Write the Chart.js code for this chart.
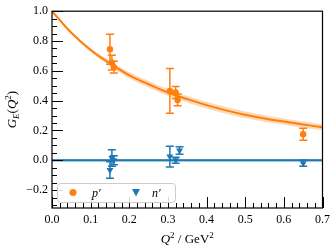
<!DOCTYPE html>
<html>
<head>
<meta charset="utf-8">
<script src="https://cdn.jsdelivr.net/npm/chart.js@4.4.0/dist/chart.umd.min.js"></script>
<style>
  html, body { margin: 0; padding: 0; background: #fff; }
  canvas { display: block; }
</style>
</head>
<body>
<canvas id="chart" width="335" height="251"></canvas>
<script>
// Fit curves
const qGrid = [0, 0.05, 0.1, 0.15, 0.2, 0.25, 0.3, 0.35, 0.4, 0.45, 0.5, 0.55, 0.6, 0.65, 0.7];
const pFit   = [1.0, 0.855, 0.74, 0.65, 0.57, 0.51, 0.455, 0.41, 0.37, 0.335, 0.305, 0.28, 0.26, 0.24, 0.222];
const pFitHi = [1.0, 0.863, 0.753, 0.667, 0.59, 0.531, 0.477, 0.432, 0.392, 0.357, 0.327, 0.302, 0.281, 0.261, 0.242];
const pFitLo = [1.0, 0.847, 0.727, 0.633, 0.55, 0.489, 0.433, 0.388, 0.348, 0.313, 0.283, 0.258, 0.239, 0.219, 0.202];
const nFit   = [0, 0, 0, 0, 0, 0, 0, 0, 0, 0, 0, 0, 0, 0, 0];
const nFitHi = [0.009, 0.009, 0.009, 0.009, 0.009, 0.009, 0.009, 0.009, 0.009, 0.009, 0.009, 0.009, 0.009, 0.009, 0.009];
const nFitLo = [-0.009, -0.009, -0.009, -0.009, -0.009, -0.009, -0.009, -0.009, -0.009, -0.009, -0.009, -0.009, -0.009, -0.009, -0.009];

// Lattice points p' and n'
const pX   = [0.15, 0.155, 0.16, 0.305, 0.32, 0.325, 0.65];
const pY   = [0.745, 0.655, 0.625, 0.465, 0.455, 0.405, 0.175];
const pErr = [0.10, 0.05, 0.04, 0.15, 0.04, 0.04, 0.04];
const nX   = [0.15, 0.155, 0.16, 0.305, 0.32, 0.33, 0.65];
const nY   = [-0.065, 0.015, 0.0, 0.025, 0.0, 0.065, -0.02];
const nErr = [0.055, 0.055, 0.03, 0.07, 0.02, 0.025, 0.02];

const xTicks = [0, 0.1, 0.2, 0.3, 0.4, 0.5, 0.6, 0.7];
const yTicks = [-0.2, 0, 0.2, 0.4, 0.6, 0.8, 1.0];

const ORANGE = '#ff7f0e';
const BLUE = '#1f77b4';
const SERIF = '"Liberation Serif", "DejaVu Serif", serif';

const toXY = (xs, ys) => xs.map((x, i) => ({ x: x, y: ys[i] }));

// error bars, drawn just before the points of their dataset
const errorBars = {
    id: 'errorBars',
    beforeDatasetDraw(chart, args) {
        const ds = chart.data.datasets[args.index];
        if (!ds.errors) return;
        const ctx = chart.ctx;
        const xs = chart.scales.x, ys = chart.scales.y;
        ctx.save();
        ctx.strokeStyle = ds.borderColor;
        ctx.lineWidth = 1.5;
        ds.data.forEach((p, i) => {
            const px = xs.getPixelForValue(p.x);
            const top = ys.getPixelForValue(p.y + ds.errors[i]);
            const bot = ys.getPixelForValue(p.y - ds.errors[i]);
            ctx.beginPath();
            ctx.moveTo(px, top); ctx.lineTo(px, bot);
            ctx.moveTo(px - 4, top); ctx.lineTo(px + 4, top);
            ctx.moveTo(px - 4, bot); ctx.lineTo(px + 4, bot);
            ctx.stroke();
        });
        ctx.restore();
    }
};

// frame, inward ticks, axis titles and legend
const decorations = {
    id: 'decorations',
    afterDraw(chart) {
        const ctx = chart.ctx;
        const a = chart.chartArea;
        const xs = chart.scales.x, ys = chart.scales.y;
        ctx.save();
        ctx.strokeStyle = '#000';
        ctx.lineWidth = 1.2;
        ctx.strokeRect(a.left, a.top, a.right - a.left, a.bottom - a.top);

        ctx.beginPath();
        for (let v = 0; v <= 0.7001; v += 0.02) {
            const px = Math.round(xs.getPixelForValue(v)) + 0.5;
            const major = Math.abs(v * 10 - Math.round(v * 10)) < 1e-6;
            ctx.moveTo(px, a.bottom);
            ctx.lineTo(px, a.bottom - (major ? 11 : 5));
        }
        for (let v = -0.3; v <= 1.0001; v += 0.05) {
            const py = Math.round(ys.getPixelForValue(v)) + 0.5;
            const major = Math.abs(v * 5 - Math.round(v * 5)) < 1e-6;
            ctx.moveTo(a.left, py);
            ctx.lineTo(a.left + (major ? 11 : 5), py);
        }
        ctx.lineWidth = 1;
        ctx.stroke();

        // text pieces: [text, font, dy]
        const drawRich = (parts, cx, cy) => {
            let w = 0;
            parts.forEach(p => { ctx.font = p[1]; w += ctx.measureText(p[0]).width; });
            let x = cx - w / 2;
            ctx.textBaseline = 'alphabetic';
            ctx.textAlign = 'left';
            parts.forEach(p => {
                ctx.font = p[1];
                ctx.fillText(p[0], x, cy + p[2]);
                x += ctx.measureText(p[0]).width;
            });
        };
        ctx.fillStyle = '#000';
        const it = 'italic 13px ' + SERIF, rm = '13px ' + SERIF, sm = '9px ' + SERIF, smi = 'italic 9px ' + SERIF;

        drawRich([['Q', it, 0], ['2', sm, -5], [' / GeV', rm, 0], ['2', sm, -5]],
            (a.left + a.right) / 2, 243);

        ctx.save();
        ctx.translate(16, (a.top + a.bottom) / 2);
        ctx.rotate(-Math.PI / 2);
        drawRich([['G', it, 0], ['E', smi, 3], ['(', rm, 0], ['Q', it, 0], ['2', sm, -5], [')', rm, 0]], 0, 0);
        ctx.restore();

        // legend
        const lx = 57.5, ly = 183.5, lw = 118, lh = 19, r = 3;
        ctx.beginPath();
        ctx.roundRect(lx, ly, lw, lh, r);
        ctx.fillStyle = 'rgba(255,255,255,0.85)';
        ctx.fill();
        ctx.strokeStyle = '#cccccc';
        ctx.lineWidth = 1;
        ctx.stroke();

        ctx.fillStyle = ORANGE;
        ctx.beginPath();
        ctx.arc(73, 192.5, 3.5, 0, Math.PI * 2);
        ctx.fill();
        ctx.fillStyle = BLUE;
        ctx.beginPath();
        ctx.moveTo(132, 189); ctx.lineTo(140, 189); ctx.lineTo(136, 196.5);
        ctx.closePath();
        ctx.fill();

        ctx.fillStyle = '#000';
        ctx.font = 'italic 12px ' + SERIF;
        ctx.textBaseline = 'alphabetic';
        ctx.fillText('p\u2032', 92, 197);
        ctx.fillText('n\u2032', 152, 197);
        ctx.restore();
    }
};

const bandStyle = (color) => ({
    borderWidth: 0, pointRadius: 0, backgroundColor: color, borderColor: 'transparent'
});

new Chart(document.getElementById('chart').getContext('2d'), {
    type: 'line',
    data: {
        datasets: [
            { label: "p'", data: toXY(pX, pY), errors: pErr, showLine: false,
              borderColor: ORANGE, backgroundColor: ORANGE, pointRadius: 3.2, pointBorderWidth: 0,
              order: 0 },
            { label: "n'", data: toXY(nX, nY), errors: nErr, showLine: false,
              borderColor: BLUE, backgroundColor: BLUE, pointStyle: 'triangle', pointRotation: 180,
              pointRadius: 4, pointBorderWidth: 0, order: 1 },
            { label: 'n fit', data: toXY(qGrid, nFit), borderColor: BLUE, borderWidth: 2,
              pointRadius: 0, fill: false, order: 2 },
            { label: 'p fit', data: toXY(qGrid, pFit), borderColor: ORANGE, borderWidth: 2,
              pointRadius: 0, fill: false, tension: 0.4, order: 3 },
            Object.assign({ label: 'n hi', data: toXY(qGrid, nFitHi), fill: '+1', order: 4 },
                bandStyle('rgba(31,119,180,0.3)')),
            Object.assign({ label: 'n lo', data: toXY(qGrid, nFitLo), fill: false, order: 5 },
                bandStyle('rgba(31,119,180,0.3)')),
            Object.assign({ label: 'p hi', data: toXY(qGrid, pFitHi), fill: '+1', tension: 0.4, order: 6 },
                bandStyle('rgba(255,127,14,0.3)')),
            Object.assign({ label: 'p lo', data: toXY(qGrid, pFitLo), fill: false, tension: 0.4, order: 7 },
                bandStyle('rgba(255,127,14,0.3)'))
        ]
    },
    options: {
        responsive: false,
        animation: false,
        devicePixelRatio: 1,
        layout: { padding: { top: 7, right: 11, left: 0, bottom: 0 } },
        plugins: { legend: { display: false }, tooltip: { enabled: false } },
        scales: {
            x: {
                type: 'linear', min: 0, max: 0.7,
                grid: { display: false, drawTicks: false, tickLength: 0 }, border: { display: false },
                afterBuildTicks: (s) => { s.ticks = xTicks.map(v => ({ value: v })); },
                afterFit: (s) => { s.height = 43; },
                ticks: { color: '#000', padding: 5, maxRotation: 0,
                         font: { family: SERIF, size: 12 },
                         callback: (v) => v.toFixed(1) }
            },
            y: {
                min: -0.32, max: 1.0,
                grid: { display: false, drawTicks: false, tickLength: 0 }, border: { display: false },
                afterBuildTicks: (s) => { s.ticks = yTicks.map(v => ({ value: v })); },
                afterFit: (s) => { s.width = 52; },
                ticks: { color: '#000', padding: 4,
                         font: { family: SERIF, size: 12 },
                         callback: (v) => (v < 0 ? '\u2212' : '') + Math.abs(v).toFixed(1) }
            }
        }
    },
    plugins: [errorBars, decorations]
});
</script>
</body>
</html>
